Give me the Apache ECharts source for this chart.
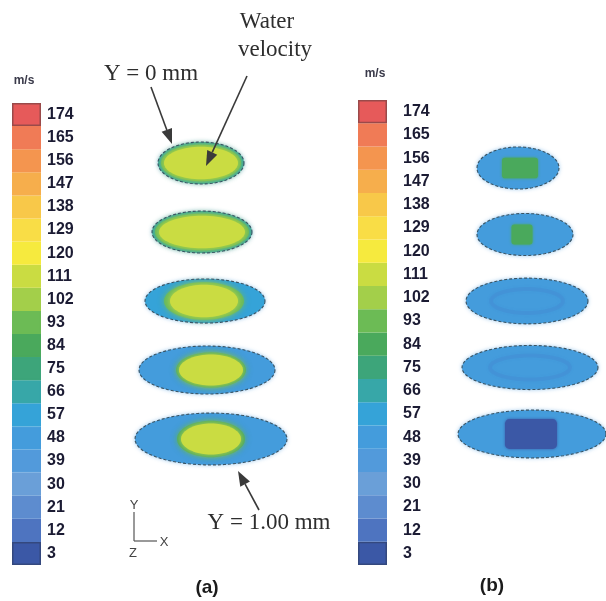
<!DOCTYPE html>
<html lang="en">
<head>
    <meta charset="UTF-8">
    <title>Water velocity sections</title>
    <script src="https://cdn.jsdelivr.net/npm/echarts@6/dist/echarts.min.js"></script>
</head>
<body style="margin:0">
<div id="chart" style="width: 606px;height: 601px"></div>
<script type="text/javascript">
    // legend scale, m/s (bottom to top)
    var ticks = [3, 12, 21, 30, 39, 48, 57, 66, 75, 84, 93, 102, 111, 120, 129, 138, 147, 156, 165, 174];
    var palette = ['#3b58a6', '#4e74c0', '#5d8ccf', '#6a9fd8', '#529adb', '#449cdc', '#35a3d8', '#37a7a8',
        '#3da57a', '#4aa95c', '#6cbb55', '#a3cf4a', '#cadc42', '#f6ea3e', '#f9dd46', '#f8c849',
        '#f6ae4c', '#f4954f', '#f07b56', '#e65a5a'];

    // sections, Y position (mm)
    var sectionY = [0, 0.25, 0.5, 0.75, 1.0];

    // (a) water velocity
    var aCenterX = [-0.09, -0.08, -0.05, -0.03, 0.01];
    var aHalfW = [0.43, 0.50, 0.60, 0.68, 0.76];
    var aHalfH = [0.076, 0.076, 0.080, 0.087, 0.094];
    var aOuter = [66, 66, 57, 48, 48];
    var aMid = [93, 93, 93, 84, 84];
    var aMidW = [0.40, 0.47, 0.40, 0.35, 0.34];
    var aMidH = [0.066, 0.066, 0.068, 0.064, 0.066];
    var aCoreX = [-0.09, -0.08, -0.06, 0.01, 0.01];
    var aCore = [111, 111, 111, 111, 111];
    var aCoreW = [0.37, 0.43, 0.34, 0.32, 0.30];
    var aCoreH = [0.059, 0.059, 0.059, 0.056, 0.056];
    var aCoreShape = ['ellipse', 'ellipse', 'ellipse', 'ellipse', 'ellipse'];

    // (b)
    var bCenterX = [-0.12, -0.05, -0.03, 0, 0.02];
    var bHalfW = [0.41, 0.48, 0.61, 0.68, 0.74];
    var bHalfH = [0.079, 0.079, 0.086, 0.083, 0.090];
    var bOuter = [48, 48, 48, 48, 48];
    var bMid = [null, null, null, null, null];
    var bMidW = [0, 0, 0, 0, 0];
    var bMidH = [0, 0, 0, 0, 0];
    var bCoreX = [-0.10, -0.08, -0.03, 0, 0.01];
    var bCore = [84, 84, 39, 39, 3];
    var bCoreW = [0.18, 0.105, 0.36, 0.40, 0.26];
    var bCoreH = [0.039, 0.038, 0.045, 0.045, 0.056];
    var bCoreShape = ['rect', 'rect', 'ghost', 'ghost', 'rect'];

    function colorOf(v) {
        return palette[Math.max(0, Math.min(palette.length - 1, Math.round((v - 3) / 9)))];
    }

    function buildSections(cx, hw, hh, outer, mid, midW, midH, coreX, core, coreW, coreH) {
        return sectionY.map(function (y, i) {
            return [cx[i], y, hw[i], hh[i], outer[i], mid[i], midW[i], midH[i], coreX[i], core[i], coreW[i], coreH[i], i];
        });
    }

    function ellipsePoints(cx, cy, rx, ry) {
        var pts = [];
        for (var i = 0; i < 72; i++) {
            var t = i / 72 * Math.PI * 2;
            pts.push([cx + rx * Math.cos(t), cy + ry * Math.sin(t)]);
        }
        return pts;
    }

    function sectionRenderer(shapes) {
        return function (params, api) {
            var c = api.coord([api.value(0), api.value(1)]);
            var s = api.size([api.value(2), api.value(3)]);
            var children = [];
            children.push({
                type: 'polygon',
                shape: {points: ellipsePoints(c[0], c[1], s[0], s[1])},
                style: {fill: colorOf(api.value(4)), shadowBlur: 4, shadowColor: 'rgba(120,180,230,0.8)'}
            });
            var midV = api.value(5);
            if (midV !== null && !isNaN(midV) && api.value(6) > 0) {
                var ms = api.size([api.value(6), api.value(7)]);
                children.push({
                    type: 'polygon',
                    shape: {points: ellipsePoints(api.coord([api.value(8), 0])[0], c[1], ms[0], ms[1])},
                    style: {fill: colorOf(midV), opacity: 0.85, shadowBlur: 6, shadowColor: colorOf(midV)}
                });
            }
            var cc = api.coord([api.value(8), api.value(1)]);
            var cs = api.size([api.value(10), api.value(11)]);
            var shape = shapes[api.value(12)];
            if (shape === 'rect') {
                children.push({
                    type: 'rect',
                    shape: {x: cc[0] - cs[0], y: cc[1] - cs[1], width: cs[0] * 2, height: cs[1] * 2, r: Math.min(cs[0], cs[1]) * 0.3},
                    style: {fill: colorOf(api.value(9)), shadowBlur: 3, shadowColor: colorOf(api.value(9))}
                });
            } else if (shape === 'ghost') {
                children.push({
                    type: 'polygon',
                    shape: {points: ellipsePoints(cc[0], cc[1], cs[0], cs[1])},
                    style: {fill: 'none', stroke: 'rgba(70,110,200,0.16)', lineWidth: 4, shadowBlur: 4, shadowColor: 'rgba(70,110,200,0.2)'}
                });
            } else {
                children.push({
                    type: 'polygon',
                    shape: {points: ellipsePoints(cc[0], cc[1], cs[0], cs[1])},
                    style: {fill: colorOf(api.value(9)), shadowBlur: 6, shadowColor: colorOf(api.value(9))}
                });
            }
            children.push({
                type: 'polygon',
                shape: {points: ellipsePoints(c[0], c[1], s[0], s[1])},
                style: {fill: 'none', stroke: '#3a5464', lineWidth: 1.1, lineDash: [3, 2]}
            });
            return {type: 'group', children: children};
        };
    }

    function legendBars() {
        return ticks.map(function (t, i) {
            var item = {value: 1, itemStyle: {color: palette[i], borderColor: palette[i], borderWidth: 1.4}};
            if (i === ticks.length - 1) {
                item.itemStyle.borderColor = '#9a4a4a';
                item.itemStyle.borderWidth = 1.5;
            }
            if (i === 0) {
                item.itemStyle.borderColor = '#34487e';
                item.itemStyle.borderWidth = 1.5;
            }
            return item;
        });
    }

    function arrow(x1, y1, x2, y2) {
        var dx = x2 - x1, dy = y2 - y1, len = Math.sqrt(dx * dx + dy * dy);
        var ux = dx / len, uy = dy / len, head = 15, half = 5.5;
        var bx = x2 - ux * head, by = y2 - uy * head;
        return [
            {type: 'line', z: 100, shape: {x1: x1, y1: y1, x2: bx, y2: by}, style: {stroke: '#3a3a3a', lineWidth: 1.6}},
            {type: 'polygon', z: 100, shape: {points: [[x2, y2], [bx - uy * half, by + ux * half], [bx + uy * half, by - ux * half]]},
                style: {fill: '#3a3a3a'}}
        ];
    }

    var serif = {fontFamily: 'Liberation Serif', fontSize: 23, fill: '#2e2e2e', textAlign: 'center', textVerticalAlign: 'middle'};
    function txt(x, y, text, style) {
        return {type: 'text', z: 100, x: x, y: y, style: Object.assign({text: text}, style)};
    }
    var small = {fontFamily: 'Liberation Sans', fontSize: 13, fill: '#444', textAlign: 'center', textVerticalAlign: 'middle'};
    var unit = {fontFamily: 'Liberation Sans', fontSize: 12, fontWeight: 'bold', fill: '#3a3a4a', textAlign: 'center', textVerticalAlign: 'middle'};
    var panel = {fontFamily: 'Liberation Sans', fontSize: 19, fontWeight: 'bold', fill: '#1b1b1b', textAlign: 'center', textVerticalAlign: 'middle'};

    var graphics = []
        .concat([
            txt(267, 22, 'Water', serif),
            txt(275, 50, 'velocity', serif),
            txt(151, 74, 'Y = 0 mm', serif),
            txt(269, 523, 'Y = 1.00 mm', serif)
        ])
        .concat(arrow(151, 87, 172, 144))
        .concat(arrow(247, 76, 206, 166))
        .concat(arrow(259, 510, 238, 471))
        .concat([
            {type: 'line', z: 100, shape: {x1: 134, y1: 512, x2: 134, y2: 541}, style: {stroke: '#555', lineWidth: 1.2}},
            {type: 'line', z: 100, shape: {x1: 134, y1: 541, x2: 157, y2: 541}, style: {stroke: '#555', lineWidth: 1.2}},
            txt(134, 505, 'Y', small),
            txt(164, 542, 'X', small),
            txt(133, 553, 'Z', small),
            txt(24, 81, 'm/s', unit),
            txt(375, 74, 'm/s', unit),
            txt(207, 588, '(a)', panel),
            txt(492, 586, '(b)', panel)
        ]);

    var labelStyle = {fontFamily: 'Liberation Sans', fontSize: 16, fontWeight: 'bold', color: '#1b1b33', interval: 0};

    var chart = echarts.init(document.getElementById('chart'));
    chart.setOption({
        animation: false,
        backgroundColor: '#ffffff',
        grid: [
            {left: 12, top: 103, width: 29, height: 462},
            {left: 358, top: 100, width: 29, height: 465},
            {left: 100, top: 25, width: 220, height: 552},
            {left: 410, top: 35, width: 196, height: 532}
        ],
        xAxis: [
            {gridIndex: 0, type: 'value', min: 0, max: 1, show: false},
            {gridIndex: 1, type: 'value', min: 0, max: 1, show: false},
            {gridIndex: 2, type: 'value', min: -1.1, max: 1.1, show: false},
            {gridIndex: 3, type: 'value', min: -1.2, max: 0.76, show: false}
        ],
        yAxis: [
            {gridIndex: 0, type: 'category', data: ticks, position: 'right',
                axisLine: {show: false}, axisTick: {show: false},
                axisLabel: Object.assign({margin: 6}, labelStyle)},
            {gridIndex: 1, type: 'category', data: ticks, position: 'right',
                axisLine: {show: false}, axisTick: {show: false},
                axisLabel: Object.assign({margin: 16}, labelStyle)},
            {gridIndex: 2, type: 'value', min: -0.5, max: 1.5, inverse: true, show: false},
            {gridIndex: 3, type: 'value', min: -0.5, max: 1.5, inverse: true, show: false}
        ],
        series: [
            {type: 'bar', xAxisIndex: 0, yAxisIndex: 0, barWidth: '100%', barCategoryGap: '0%', data: legendBars()},
            {type: 'bar', xAxisIndex: 1, yAxisIndex: 1, barWidth: '100%', barCategoryGap: '0%', data: legendBars()},
            {type: 'custom', xAxisIndex: 2, yAxisIndex: 2, renderItem: sectionRenderer(aCoreShape),
                data: buildSections(aCenterX, aHalfW, aHalfH, aOuter, aMid, aMidW, aMidH, aCoreX, aCore, aCoreW, aCoreH)},
            {type: 'custom', xAxisIndex: 3, yAxisIndex: 3, renderItem: sectionRenderer(bCoreShape),
                data: buildSections(bCenterX, bHalfW, bHalfH, bOuter, bMid, bMidW, bMidH, bCoreX, bCore, bCoreW, bCoreH)}
        ],
        graphic: graphics
    });
</script>
</body>
</html>
